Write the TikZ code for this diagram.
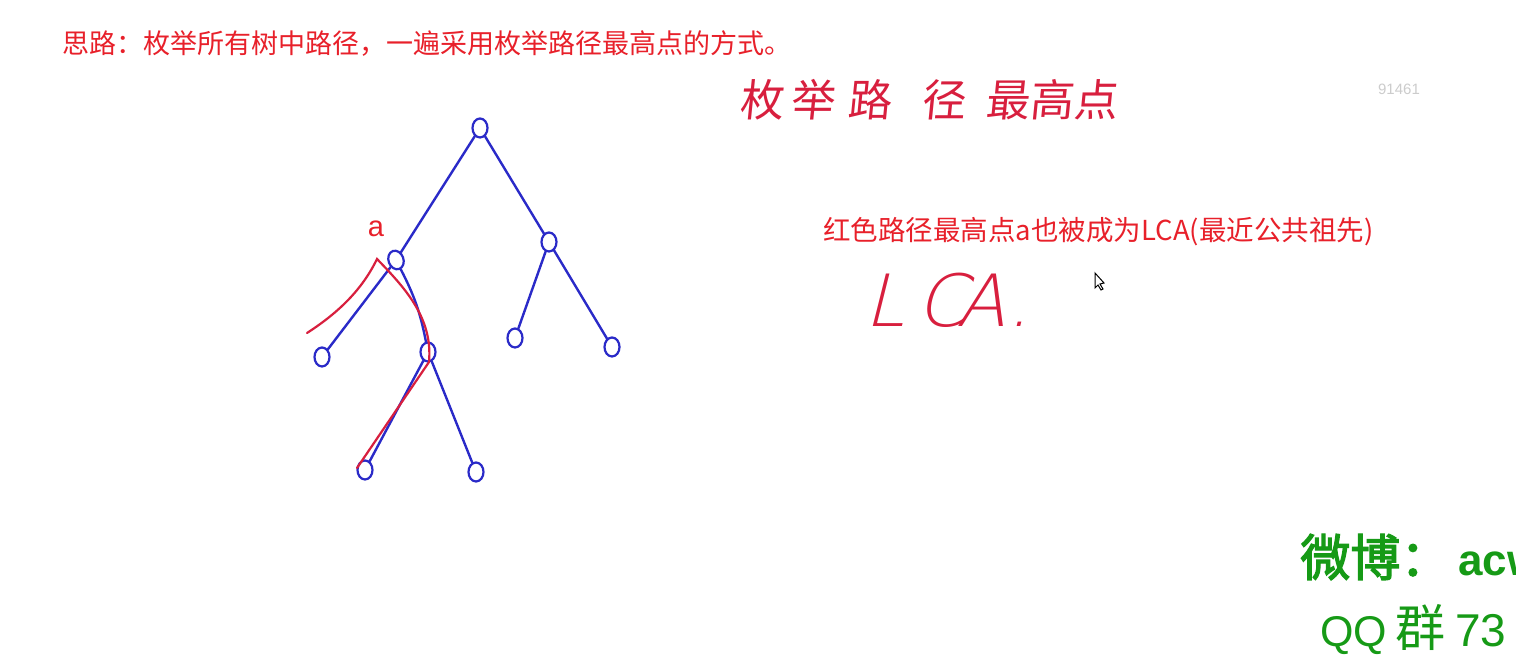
\documentclass[tikz,border=0pt]{standalone}
\usepackage{fontspec}
\setmainfont{Liberation Sans}
\newfontfamily\cjk{Noto Sans CJK SC}
\newfontfamily\cjkbold[FakeBold=2.5]{Noto Sans CJK SC}
\newfontfamily\handcjk[FakeSlant=0.1]{Noto Sans CJK SC}
\IfFontExistsTF{DejaVu Sans ExtraLight}
  {\newfontfamily\handlatin[FakeSlant=0.25]{DejaVu Sans ExtraLight}}
  {\newfontfamily\handlatin[FakeSlant=0.25]{Fira Sans}}
\usetikzlibrary{shapes.geometric}
\definecolor{noteRed}{HTML}{E8202A}
\definecolor{inkRed}{HTML}{D81F3E}
\definecolor{inkBlue}{HTML}{2A2AC8}
\definecolor{markGreen}{HTML}{169A16}
\definecolor{markGray}{HTML}{CCCCCC}
\tikzset{
  treenode/.style={draw=inkBlue, ellipse, line width=1.1pt,
                   minimum width=7.5pt, minimum height=9.5pt, inner sep=0pt},
  treeedge/.style={draw=inkBlue, line width=1.2pt, line cap=round},
  redpath/.style={draw=inkRed, line width=1.1pt, line cap=round},
  typed/.style={text=noteRed, inner sep=0pt, anchor=west,
                font={\cjk\fontsize{13.5}{16}\selectfont}},
  handnote/.style={text=inkRed, inner sep=0pt, anchor=west},
  stamp/.style={text=markGreen, inner sep=0pt, anchor=west}
}

\begin{document}
\begin{tikzpicture}[x=0.5pt, y=-0.5pt]

\fill[white] (0,0) rectangle (1516,667);
\useasboundingbox (0,0) rectangle (1516,667);

% ------------------------------------------------------------
% TYPED NOTES
% ------------------------------------------------------------
\node[typed] (idea) at (62,44)
{思路：枚举所有树中路径，一遍采用枚举路径最高点的方式。};
\node[typed, font={\cjk\fontsize{13.75}{16}\selectfont}] (lcanote) at (823,232)
{红色路径最高点a也被成为LCA(最近公共祖先)};
\node[text=noteRed, inner sep=0pt, font={\fontsize{14.5}{16}\selectfont}]
  (alabel) at (376,229) {a};

% ------------------------------------------------------------
% HANDWRITING
% ------------------------------------------------------------
\node[handnote, font={\handcjk\fontsize{22}{24}\selectfont}] (enumtop) at (739,100)
{枚\hspace{3.5pt}举\hspace{6.5pt}路\hspace{15pt}径\hspace{10pt}最高点};
\node[handnote, font={\handlatin\fontsize{36}{40}\selectfont}] (lcahand) at (864,300)
{L\hspace{6pt}C\hspace{-5pt}A\hspace{1pt}.};

% ------------------------------------------------------------
% TREE
% ------------------------------------------------------------
\node[treenode] (root) at (480,128) {};
\node[treenode, rotate=20] (na) at (396,260) {};
\node[treenode] (nr) at (549,242) {};
\node[treenode] (nll) at (322,357) {};
\node[treenode] (nm) at (428,352) {};
\node[treenode] (nrl) at (515,338) {};
\node[treenode] (nrr) at (612,347) {};
\node[treenode] (nbl) at (365,470) {};
\node[treenode] (nbr) at (476,472) {};

\draw[treeedge] (root) -- (na);
\draw[treeedge] (root) -- (nr);
\draw[treeedge] (na) -- (nll);
\draw[treeedge] (na) to[bend left=8] (nm);
\draw[treeedge] (nr) -- (nrl);
\draw[treeedge] (nr) -- (nrr);
\draw[treeedge] (nm) -- (nbl);
\draw[treeedge] (nm) -- (nbr);

% red path through a
\coordinate (redstart) at (307,333);
\coordinate (redtop) at (377,259);
\coordinate (redturn) at (429,362);
\coordinate (redend) at (357,468);
\draw[redpath] (redstart) .. controls (338,313) and (362,290) .. (redtop)
  .. controls (405,288) and (433,318) .. (redturn) -- (redend);

% ------------------------------------------------------------
% SCREEN MARKS
% ------------------------------------------------------------
\node[text=markGray, inner sep=0pt, font={\fontsize{7.5}{9}\selectfont}]
  (wmark) at (1399,89) {91461};
\filldraw[fill=white, draw=black, line width=0.5pt]
  (1095,273) -- (1095,288) -- (1098,285) -- (1101,290) -- (1103,289)
  -- (1100,284) -- (1104,283) -- cycle;

\node[stamp] (weibo) at (1300,557)
{{\cjkbold\fontsize{25}{28}\selectfont 微博：}\hspace{4pt}{\bfseries\fontsize{22}{24}\selectfont acw}};
\node[stamp] (qqgroup) at (1320,630)
{{\fontsize{21.5}{24}\selectfont QQ}\hspace{4pt}{\cjk\fontsize{25}{28}\selectfont 群}\hspace{5pt}{\fontsize{23}{24}\selectfont 73}};

\end{tikzpicture}
\end{document}
